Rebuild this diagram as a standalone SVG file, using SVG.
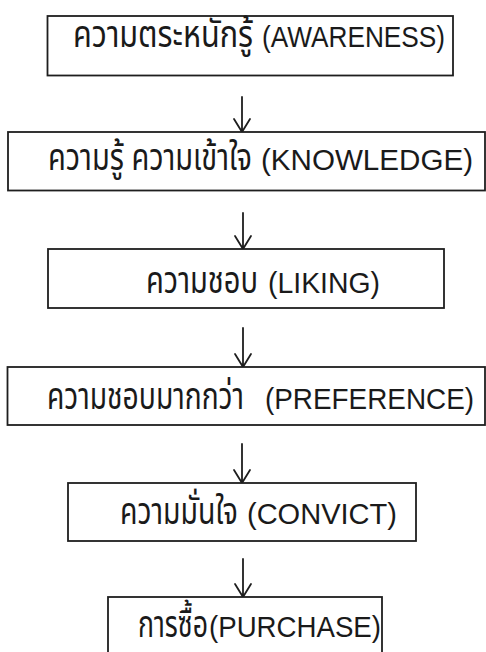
<svg xmlns="http://www.w3.org/2000/svg" width="486" height="652" viewBox="0 0 486 652">
<defs>
<style>
.box{fill:#fff;stroke:#1e1e1e;stroke-width:1.8}
.lat{font-family:"Liberation Sans",Arial,sans-serif;font-size:26px;fill:#1a1a1a}
.th{font-family:"Noto Sans Thai","Noto Sans Thai UI","Loma","Garuda","Tlwg Typo","Liberation Sans",sans-serif;font-size:29px;fill:#1a1a1a}
.con{fill:none;stroke:#1e1e1e;stroke-width:1.8;stroke-linecap:round;stroke-linejoin:round}
</style>
</defs>
<rect width="486" height="652" fill="#fff"/>
<g id="connectors">
<path class="con" d="M242 97V132M234 119L242 132L250 119"/>
<path class="con" d="M243 213V249M235 236L243 249L251 236"/>
<path class="con" d="M243 328V367M235 354L243 367L251 354"/>
<path class="con" d="M242 444V483M234 470L242 483L250 470"/>
<path class="con" d="M243 559V597M235 584L243 597L251 584"/>
</g>
<g id="awareness">
<rect class="box" x="47.5" y="16" width="405.5" height="59.5"/>
<text class="th" transform="translate(0 47) scale(1 1.28)" x="73" y="0" textLength="180" lengthAdjust="spacingAndGlyphs">ความตระหนักรู้</text>
<text class="lat" transform="translate(0 47) scale(1 1.15)" x="262" y="0" textLength="183" lengthAdjust="spacingAndGlyphs">(AWARENESS)</text>
</g>
<g id="knowledge">
<rect class="box" x="8" y="132" width="477" height="58.5"/>
<text class="th" transform="translate(0 170) scale(1 1.28)" x="48" y="0" textLength="204" lengthAdjust="spacingAndGlyphs">ความรู้ ความเข้าใจ</text>
<text class="lat" transform="translate(0 170) scale(1 1.15)" x="261" y="0" textLength="212" lengthAdjust="spacingAndGlyphs">(KNOWLEDGE)</text>
</g>
<g id="liking">
<rect class="box" x="48" y="249" width="396" height="59"/>
<text class="th" transform="translate(0 293) scale(1 1.28)" x="146" y="0" textLength="112" lengthAdjust="spacingAndGlyphs">ความชอบ</text>
<text class="lat" transform="translate(0 293) scale(1 1.15)" x="268" y="0" textLength="112" lengthAdjust="spacingAndGlyphs">(LIKING)</text>
</g>
<g id="preference">
<rect class="box" x="7.5" y="367" width="477.5" height="58"/>
<text class="th" transform="translate(0 409) scale(1 1.28)" x="47" y="0" textLength="197" lengthAdjust="spacingAndGlyphs">ความชอบมากกว่า</text>
<text class="lat" transform="translate(0 409) scale(1 1.15)" x="265" y="0" textLength="209" lengthAdjust="spacingAndGlyphs">(PREFERENCE)</text>
</g>
<g id="convict">
<rect class="box" x="68" y="483" width="348" height="58"/>
<text class="th" transform="translate(0 524) scale(1 1.28)" x="120" y="0" textLength="118" lengthAdjust="spacingAndGlyphs">ความมั่นใจ</text>
<text class="lat" transform="translate(0 524) scale(1 1.15)" x="247" y="0" textLength="150" lengthAdjust="spacingAndGlyphs">(CONVICT)</text>
</g>
<g id="purchase">
<rect class="box" x="108" y="597" width="274" height="62"/>
<text class="th" transform="translate(0 637) scale(1 1.28)" x="138" y="0" textLength="70" lengthAdjust="spacingAndGlyphs">การซื้อ</text>
<text class="lat" transform="translate(0 637) scale(1 1.15)" x="209" y="0" textLength="172" lengthAdjust="spacingAndGlyphs">(PURCHASE)</text>
</g>
</svg>
